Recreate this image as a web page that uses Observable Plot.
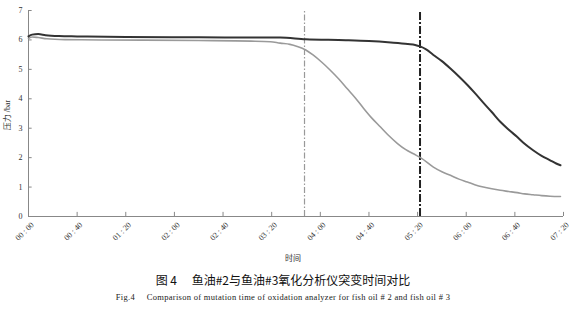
<!DOCTYPE html>
<html><head><meta charset="utf-8">
<script src="https://cdn.jsdelivr.net/npm/d3@7"></script>
<script src="https://cdn.jsdelivr.net/npm/@observablehq/plot@0.6"></script>
<style>
body{margin:0;background:#fff;width:570px;height:309px;position:relative;overflow:hidden;}
#title{position:absolute;left:0;width:566px;top:271px;text-align:center;font-family:"Noto Sans CJK SC",sans-serif;font-size:12px;color:#111;white-space:pre;}
#cap{position:absolute;left:0;width:566px;top:292px;text-align:center;font-family:"Liberation Serif",serif;font-size:8.5px;letter-spacing:0.3px;color:#222;white-space:pre;}
</style></head><body>
<div id="chart"></div>
<div id="title">图 4　 鱼油#2与鱼油#3氧化分析仪突变时间对比</div>
<div id="cap">Fig.4　 Comparison of mutation time of oxidation analyzer for fish oil # 2 and fish oil # 3</div>
<script>
// time in minutes
const blackT = [0,3,8,14,25,40,80,140,190,207,228,261,280,298,312,318,322,327,333,340,347,354,361,367,374,381,388,395,402,408,415,422,429,434,437.5];
const blackV = [6.12,6.18,6.2,6.16,6.13,6.12,6.1,6.09,6.08,6.08,6.02,5.99,5.96,5.91,5.86,5.83,5.78,5.68,5.49,5.28,5.03,4.76,4.47,4.2,3.87,3.55,3.22,2.95,2.70,2.47,2.25,2.06,1.91,1.80,1.74];
const grayT = [0,3,8,15,30,60,140,183,199,207,215,221,228,234,241,248,255,262,269,275.5,282,289.5,296,303.5,310,316.6,322.4,333,340,347,354,361,367,374,381,388,395,402,408,415,422,429,437.5];
const grayV = [6.05,6.1,6.08,6.04,6.01,6.0,5.98,5.96,5.94,5.89,5.85,5.78,5.66,5.49,5.25,4.98,4.68,4.35,4.02,3.68,3.36,3.04,2.76,2.48,2.28,2.13,2.0,1.68,1.52,1.40,1.27,1.17,1.08,1.0,0.94,0.89,0.85,0.81,0.77,0.74,0.71,0.69,0.68];
const grayMutation = [227];
const blackMutation = [322];
const xTicks = [0,40,80,120,160,200,240,280,320,360,400,440];
const yTicks = [0,1,2,3,4,5,6,7];
const xLabel = "时间";
const yLabel = "压力 /bar";

const black = blackT.map((t,i)=>({t, v: blackV[i]}));
const gray = grayT.map((t,i)=>({t, v: grayV[i]}));
const pad = n => String(n).padStart(2,"0");
const fmt = m => `${pad(Math.floor(m/60))} : ${pad(m%60)}`;
const serif = "Liberation Serif, Noto Sans CJK SC, serif";

const chart = Plot.plot({
  width: 570, height: 265,
  marginLeft: 28, marginRight: 7, marginTop: 10, marginBottom: 49,
  style: {fontFamily: serif, fontSize: "8px", color: "#333", background: "#fff"},
  x: {domain: [0, 440]},
  y: {domain: [0, 7]},
  marks: [
    Plot.ruleY([0], {stroke: "#888"}),
    Plot.ruleX([0], {stroke: "#888"}),
    Plot.ruleX(xTicks, {x: d => d, y1: 0, y2: 0.14, stroke: "#888"}),
    Plot.ruleY(yTicks, {y: d => d, x1: 0, x2: 3, stroke: "#888"}),
    Plot.axisX({ticks: xTicks, tickFormat: fmt, tickRotate: -45, tickSize: 0, tickPadding: 7, dx: 4, label: null, fill: "#333"}),
    Plot.axisY({ticks: yTicks, tickFormat: d => String(d), tickSize: 0, tickPadding: 6, label: null, fill: "#333"}),
    Plot.text([xLabel], {frameAnchor: "bottom", dy: 44, dx: -3, text: d => d, fontSize: 8, fill: "#333"}),
    Plot.text([yLabel], {x: 0, y: 3.45, dx: -21, rotate: -90, text: d => d, fontSize: 8, fill: "#333", textAnchor: "middle", lineAnchor: "middle"}),
    Plot.ruleX(grayMutation, {x: d => d, y1: 0, y2: 7, stroke: "#999", strokeWidth: 1.2, strokeDasharray: "6,2,1.5,2"}),
    Plot.ruleX(blackMutation, {x: d => d, y1: 0, y2: 7, stroke: "#222", strokeWidth: 2, strokeDasharray: "8,2,2,2"}),
    Plot.line(gray, {x: "t", y: "v", stroke: "#9a9a9a", strokeWidth: 1.6, curve: "monotone-x"}),
    Plot.line(black, {x: "t", y: "v", stroke: "#333", strokeWidth: 2, curve: "monotone-x"})
  ]
});
document.getElementById("chart").appendChild(chart);
</script>
</body></html>
